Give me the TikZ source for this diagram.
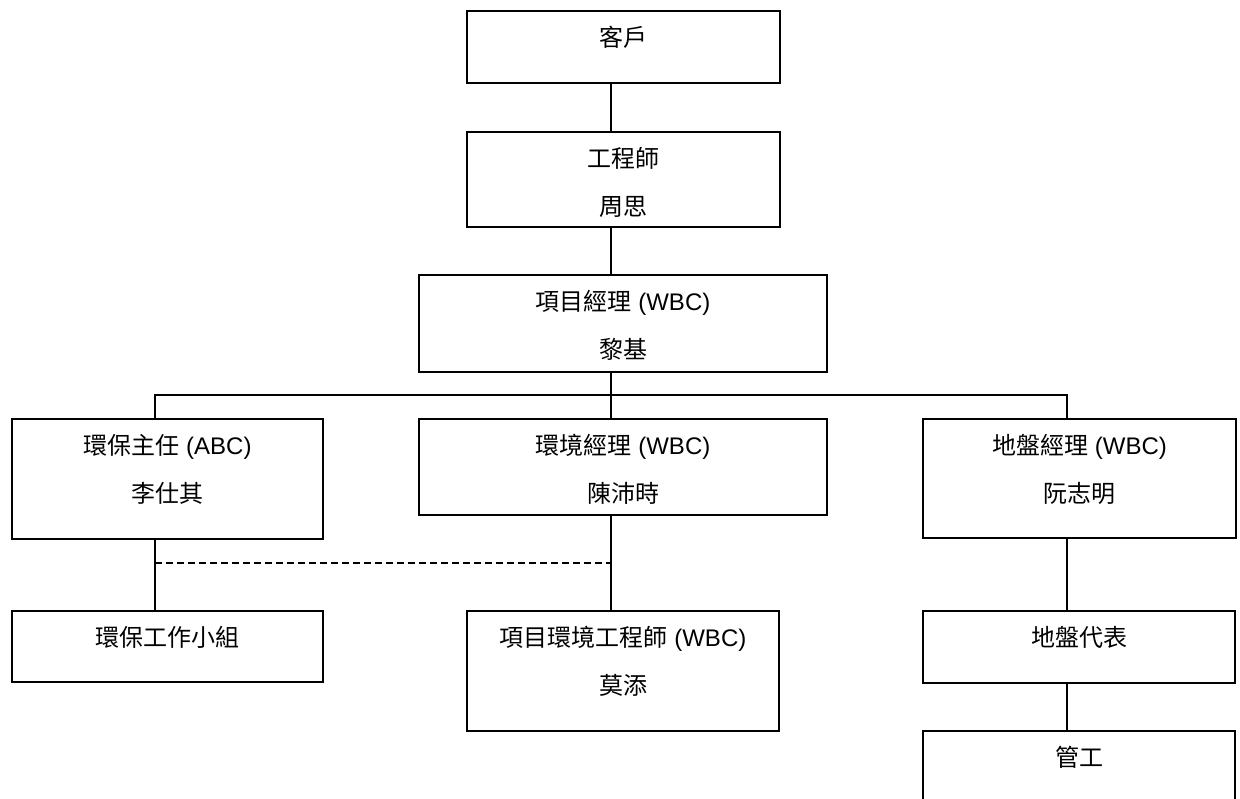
\documentclass[tikz,border=0pt]{standalone}
\usepackage{fontspec}
\setmainfont{Liberation Sans}
\newfontfamily\cjk{Noto Sans CJK TC}
\tikzset{
  box/.style={draw=black, line width=1.5pt, inner sep=0pt, fill=white},
  txt/.style={font=\fontsize{24}{28}\selectfont, inner sep=0pt, anchor=base, text=black},
  conn/.style={line width=1.5pt, draw=black},
  dashconn/.style={conn, dash pattern=on 7pt off 4pt},
}
\begin{document}
\begin{tikzpicture}[x=1pt, y=-1pt]
\useasboundingbox (0,0) rectangle (1240,799);
\fill[white] (0,0) rectangle (1240,799);
\clip (0,0) rectangle (1240,799);

% helper coordinates
\coordinate (mx) at (611,0);
\coordinate (lx) at (155,0);
\coordinate (rx) at (1067,0);
\coordinate (busY) at (0,395);
\coordinate (dashY) at (0,563);

% boxes
\node[box, minimum width=313pt, minimum height=72pt] (client) at (623.5,47) {};
\node[box, minimum width=313pt, minimum height=95pt] (engineer) at (623.5,179.5) {};
\node[box, minimum width=408pt, minimum height=97pt] (pm) at (623,323.5) {};
\node[box, minimum width=311pt, minimum height=120pt] (envOff) at (167.5,479) {};
\node[box, minimum width=408pt, minimum height=96pt] (envMgr) at (623,467) {};
\node[box, minimum width=313pt, minimum height=119pt] (siteMgr) at (1079.5,478.5) {};
\node[box, minimum width=311pt, minimum height=71pt] (envTeam) at (167.5,646.5) {};
\node[box, minimum width=312pt, minimum height=120pt] (projEnv) at (623,671) {};
\node[box, minimum width=312pt, minimum height=72pt] (siteRep) at (1079,647) {};
\node[box, minimum width=312pt, minimum height=120pt] (foreman) at (1079,791) {};

% texts
\node[txt] (clientT) at ([yshift=-36pt]client.north) {\cjk 客戶};
\node[txt] (engineerT1) at ([yshift=-36pt]engineer.north) {\cjk 工程師};
\node[txt] (engineerT2) at ([yshift=-84pt]engineer.north) {\cjk 周思};
\node[txt] (pmT1) at ([yshift=-36pt]pm.north) {{\cjk 項目經理} (WBC)};
\node[txt] (pmT2) at ([yshift=-84pt]pm.north) {\cjk 黎基};
\node[txt] (envOffT1) at ([yshift=-36pt]envOff.north) {{\cjk 環保主任} (ABC)};
\node[txt] (envOffT2) at ([yshift=-84pt]envOff.north) {\cjk 李仕其};
\node[txt] (envMgrT1) at ([yshift=-36pt]envMgr.north) {{\cjk 環境經理} (WBC)};
\node[txt] (envMgrT2) at ([yshift=-84pt]envMgr.north) {\cjk 陳沛時};
\node[txt] (siteMgrT1) at ([yshift=-36pt]siteMgr.north) {{\cjk 地盤經理} (WBC)};
\node[txt] (siteMgrT2) at ([yshift=-84pt]siteMgr.north) {\cjk 阮志明};
\node[txt] (envTeamT) at ([yshift=-36pt]envTeam.north) {\cjk 環保工作小組};
\node[txt] (projEnvT1) at ([yshift=-36pt]projEnv.north) {{\cjk 項目環境工程師} (WBC)};
\node[txt] (projEnvT2) at ([yshift=-84pt]projEnv.north) {\cjk 莫添};
\node[txt] (siteRepT) at ([yshift=-36pt]siteRep.north) {\cjk 地盤代表};
\node[txt] (foremanT) at ([yshift=-36pt]foreman.north) {\cjk 管工};

% connectors
\draw[conn] (client.south -| mx) -- (engineer.north -| mx);
\draw[conn] (engineer.south -| mx) -- (pm.north -| mx);
\draw[conn] (pm.south -| mx) -- (envMgr.north -| mx);
\draw[conn] (envOff.north -| lx) -- (lx |- busY) -- (rx |- busY) -- (siteMgr.north -| rx);
\draw[conn] (envOff.south -| lx) -- (envTeam.north -| lx);
\draw[conn] (envMgr.south -| mx) -- (projEnv.north -| mx);
\draw[dashconn] (lx |- dashY) -- (mx |- dashY);
\draw[conn] (siteMgr.south -| rx) -- (siteRep.north -| rx);
\draw[conn] (siteRep.south -| rx) -- (foreman.north -| rx);
\end{tikzpicture}
\end{document}
